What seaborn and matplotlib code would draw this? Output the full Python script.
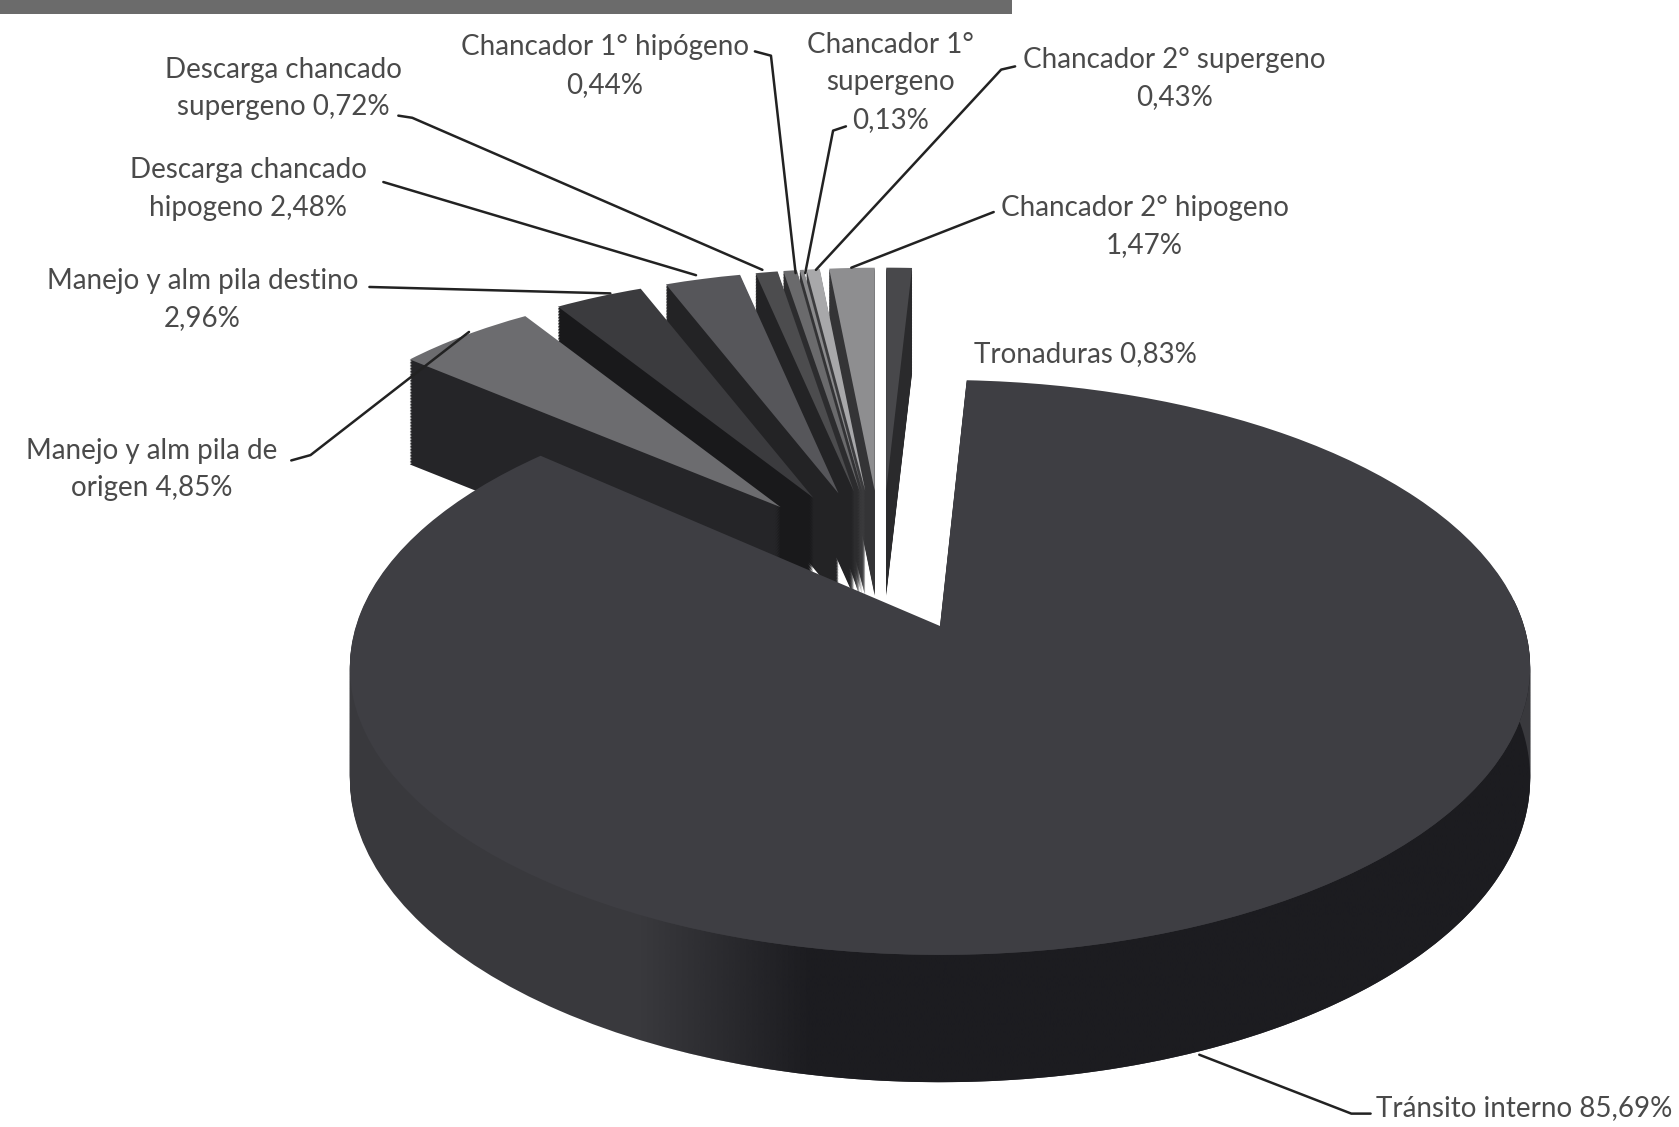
import numpy as np
import matplotlib
matplotlib.use("Agg")
import matplotlib.pyplot as plt
import matplotlib.transforms as mtransforms
from matplotlib.colors import to_rgb
from matplotlib.path import Path
from matplotlib.patches import Rectangle
import seaborn as sns

categories = ["Tránsito interno", "Manejo y alm pila de origen", "Manejo y alm pila destino",
              "Descarga chancado hipogeno", "Descarga chancado supergeno", "Chancador 1° hipógeno",
              "Chancador 1° supergeno", "Chancador 2° supergeno", "Chancador 2° hipogeno", "Tronaduras"]
values = [85.69, 4.85, 2.96, 2.48, 0.72, 0.44, 0.13, 0.43, 1.47, 0.83]
label_texts = ["Tránsito interno 85,69%", "Manejo y alm pila de\norigen 4,85%", "Manejo y alm pila destino\n2,96%",
               "Descarga chancado\nhipogeno 2,48%", "Descarga chancado\nsupergeno 0,72%", "Chancador 1° hipógeno\n0,44%",
               "Chancador 1°\nsupergeno\n0,13%", "Chancador 2° supergeno\n0,43%", "Chancador 2° hipogeno\n1,47%",
               "Tronaduras 0,83%"]
top_colors = ["#3e3e43", "#6c6c6f", "#3b3b3e", "#56565a", "#4c4c4e", "#6a6a6c", "#8a8a8c", "#a8a8aa", "#8e8e90", "#48484b"]
side_colors = ["#39393d", "#252528", "#19191b", "#232325", "#232325", "#2c2c2e", "#333335", "#3c3c3e", "#343436", "#2a2a2c"]
main_side_dark = "#1c1c20"

W, H = 1679, 1127
K = 1679 / 1568  # layout below is noted in the 1568-wide view

# text anchor (centre x, first line centre y) and leader polyline
layout = [
    ((1423, 1035), [(1280, 1040), (1262, 1040), (1120, 985)]),
    ((142, 421), [(272, 430), (290, 425), (438, 310)]),
    ((189, 262), [(345, 268), (570, 274)]),
    ((232, 159), [(358, 170), (650, 257)]),
    ((265, 65), [(372, 108), (385, 110), (712, 252)]),
    ((565, 44), [(705, 48), (720, 52), (743, 255)]),
    ((832, 42), [(790, 118), (778, 122), (752, 255)]),
    ((1097, 56), [(948, 62), (935, 65), (762, 252)]),
    ((1069, 194), [(928, 198), (910, 205), (795, 250)]),
    ((1014, 331), None),
]


class Projection(mtransforms.Transform):
    """Perspective map of the pie plane onto the picture, with a height offset."""
    input_dims = 2
    output_dims = 2
    is_separable = False
    has_inverse = False

    def __init__(self, cx, cy, rx, ry, b, z):
        super().__init__()
        self.p = (cx, cy, rx, ry, b, z)

    def transform_non_affine(self, values):
        cx, cy, rx, ry, b, z = self.p
        values = np.asarray(values, float)
        w = 1.0 / (1.0 + b * values[:, 1])
        return np.column_stack([cx + rx * values[:, 0] * w, cy - ry * values[:, 1] * w + z * w])


sns.set_theme(style="white")
plt.rcParams["font.family"] = ["Lato", "DejaVu Sans"]

fig = plt.figure(figsize=(W / 100, H / 100), dpi=100, facecolor="white")
ax = fig.add_axes([0, 0, 1, 1])

MAIN = dict(cx=940, cy=626, rx=584, ry=281.5, b=0.144)
MAIN_DEPTH = 109
SMALL = dict(cx=882, cy=562, rx=495, ry=223, b=0.0)
SMALL_DEPTH = 105
explode = [0.0] + [0.32] * (len(values) - 1)
START = 87


def layer(geom, depth_z, keep, color, zorder):
    wedges, _ = ax.pie(values, startangle=START, counterclock=False, explode=explode,
                       wedgeprops=dict(linewidth=0))
    for i, wd in enumerate(wedges):
        if i == keep:
            wd.set_facecolor(color)
            wd.set_zorder(zorder)
            wd.set_transform(Projection(z=depth_z, **geom) + ax.transData)
        else:
            wd.remove()


# exploded small slices, back to front
for i in range(len(values) - 1, 0, -1):
    base = (len(values) - i) * 10
    zs = np.arange(SMALL_DEPTH, 0, -1.5)
    for j, z in enumerate(zs):
        layer(SMALL, z, i, side_colors[i], base + j * 0.01)
    layer(SMALL, 0, i, top_colors[i], base + 5)

# large slice in front: side lit on the left, dark towards the right
base = 200
zs = np.arange(MAIN_DEPTH, 0, -1.5)
for j, z in enumerate(zs):
    layer(MAIN, z, 0, side_colors[0], base + j * 0.01)
layer(MAIN, 0, 0, top_colors[0], base + 5)

# shading band over the visible rim only
theta = np.radians(np.linspace(170, 370, 300))
rim = np.column_stack([np.cos(theta), np.sin(theta)])
upper = Projection(z=0, **MAIN).transform_non_affine(rim)
lower = Projection(z=MAIN_DEPTH, **MAIN).transform_non_affine(rim)
band = Path(np.vstack([upper, lower[::-1], upper[:1]]), closed=True)

xx = np.linspace(340, 1545, 400)
shade = np.zeros((1, xx.size, 4))
shade[..., :3] = to_rgb(main_side_dark)
shade[..., 3] = np.clip((xx - 640) / 170, 0, 1)
im = ax.imshow(shade, extent=(xx[0], xx[-1], 1100, 600), aspect="auto",
               interpolation="bilinear", zorder=base + 2)
im.set_clip_path(band, transform=ax.transData)

ax.set_aspect("auto")
ax.set_xlim(0, W)
ax.set_ylim(H, 0)
ax.axis("off")

# dark strip cut off at the top of the picture
ax.add_patch(Rectangle((0, 0), 1012, 14, facecolor="#6b6b6b", edgecolor="none", zorder=300))

LINE_H = 35 * K
for text, ((x, y), path) in zip(label_texts, layout):
    for n, line in enumerate(text.split("\n")):
        ax.text(x * K, (y * K) + n * LINE_H, line, ha="center", va="center",
                fontsize=20, color="#4a4a4a", zorder=310)
    if path:
        xs, ys = zip(*path)
        ax.plot(np.array(xs) * K, np.array(ys) * K, color="#222222", lw=1.8, zorder=305,
                solid_capstyle="round", scalex=False, scaley=False)

fig.savefig("out.png", dpi=100, facecolor="white")
